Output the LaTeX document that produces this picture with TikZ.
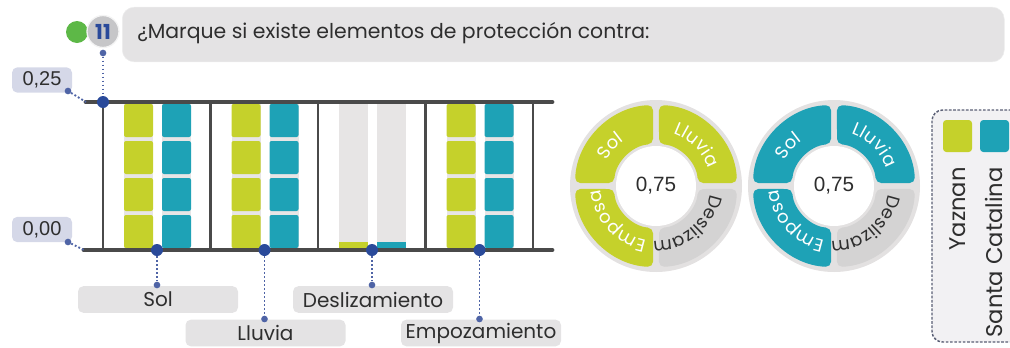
\documentclass[tikz,border=0pt]{standalone}
\usepackage{fontspec}
\setmainfont{Poppins}
\newfontfamily\numfont{Liberation Sans}
\usetikzlibrary{decorations.text}
\definecolor{ylw}{HTML}{C5D12B}
\definecolor{tel}{HTML}{1EA2B6}
\definecolor{barbg}{HTML}{E7E5E5}
\definecolor{axiscol}{HTML}{4A4A4A}
\definecolor{navy}{HTML}{2A4A9A}
\definecolor{sdot}{HTML}{4F64A6}
\definecolor{pill}{HTML}{E4E3E4}
\definecolor{numpill}{HTML}{D5D8E8}
\definecolor{txt}{HTML}{2E2E2E}
\definecolor{ringbg}{HTML}{E3E1E1}
\definecolor{segg}{HTML}{D4D3D3}
\definecolor{grn}{HTML}{5DB847}
\definecolor{ggray}{HTML}{C6C6C8}
\definecolor{legbg}{HTML}{F2F1F3}
\definecolor{legln}{HTML}{5A5F75}
\newcommand{\dfont}{\fontsize{13.5}{15}\selectfont}
\tikzset{
 bigdot/.style={circle, fill=navy, minimum size=9pt, inner sep=0pt},
 smalldot/.style={circle, fill=sdot, minimum size=5pt, inner sep=0pt},
 dotline/.style={sdot, line width=1.4pt, dash pattern=on 1.4pt off 1.6pt},
 catpill/.style={fill=pill, rounded corners=4pt, minimum width=120pt, minimum height=20pt, inner sep=0pt, text=txt, font=\fontsize{15}{17}\selectfont},
 numbox/.style={fill=numpill, rounded corners=4pt, minimum width=45pt, minimum height=19pt, inner sep=0pt, text=txt, font=\numfont\fontsize{15}{17}\selectfont},
 axisline/.style={axiscol, line width=3.6pt, line cap=round},
 vline/.style={axiscol, line width=1.9pt},
 legtext/.style={rotate=90, anchor=east, text=txt, font=\fontsize{17}{19}\selectfont, inner sep=0pt},
}
\newcommand{\donut}[2]{%
 \begin{scope}[shift={#1}, x=0.75pt, y=0.75pt]
  \fill[ringbg] (0,0) circle (86);
  \fill[white] (0,0) circle (40);
  \foreach \a/\c in {0/#2,90/#2,180/#2,270/segg}{
   \fill[\c, rounded corners=4pt] (\a+2.1:81) arc[start angle=\a+2.1, end angle=\a+87.9, radius=81] -- (\a+85.9:42) arc[start angle=\a+85.9, end angle=\a+4.1, radius=42] -- cycle;
  }
  \node[font=\numfont\fontsize{15.5}{17}\selectfont, text=txt] at (0,0) {0,75};
  \path[decorate, decoration={text along path, text align=center, text={|\dfont\color{white}|Sol}}] (178:55) arc[start angle=178, end angle=100, radius=55];
  \path[decorate, decoration={text along path, text align=center, text={|\dfont\color{white}|Lluvia}}] (92:55) arc[start angle=92, end angle=-2, radius=55];
  \path[decorate, decoration={text along path, text align=center, text={|\dfont\color{txt}|Deslizam}}] (2:55) arc[start angle=2, end angle=-104, radius=55];
  \path[decorate, decoration={text along path, text align=center, text={|\dfont\color{white}|Emposa}}] (272:55) arc[start angle=272, end angle=172, radius=55];
 \end{scope}}
\begin{document}
\begin{tikzpicture}[x=0.75pt,y=-0.75pt]
\useasboundingbox (0,0) rectangle (1010,347);
\clip (0,0) rectangle (1010,347);
% header
\node[fill=pill, draw=black!7, rounded corners=9pt, minimum width=661.5pt, minimum height=41pt, anchor=west, inner sep=0pt] (tbox) at (122,34.5) {};
\node[anchor=west, text=txt, font=\fontsize{15.3}{17}\selectfont, inner sep=0pt] (ttext) at (137,33.5) {¿Marque si existe elementos de protección contra:};
\node[circle, fill=grn, minimum size=16.5pt, inner sep=0pt] (g) at (77,32) {};
\node[circle, fill=ggray, draw=white!80!ggray, line width=1pt, minimum size=24pt, inner sep=0pt, text=navy, font=\bfseries\fontsize{15.5}{15.5}\selectfont] (q) at (103,31.5) {11};
% bars
\foreach \k in {0,1,3} {
  \pgfmathsetmacro\V{103+107.5*\k}
  \foreach \off/\c in {21/ylw,59/tel} {
    \fill[barbg] (\V+\off,104) rectangle (\V+\off+29,248);
    \foreach \i in {0,...,3} {
      \fill[\c, rounded corners=1.5pt] (\V+\off,104+37*\i) rectangle ++(29,33);
    }
  }
}
\fill[barbg] (339,104) rectangle (368,248);
\fill[barbg] (377,104) rectangle (406,248);
\fill[ylw] (339,242) rectangle (368,248);
\fill[tel] (377,242) rectangle (406,248);
% axes
\foreach \k in {0,...,4} \draw[vline] (103+107.5*\k,102) -- (103+107.5*\k,250);
\coordinate (tl) at (86,102); \coordinate (tr) at (552,102);
\coordinate (bl) at (84,250); \coordinate (br) at (552,250);
\draw[axisline] (tl) -- (tr);
\draw[axisline] (bl) -- (br);
% value labels
\node[numbox] (n25) at (42,80) {0,25};
\node[numbox] (n00) at (42,229.5) {0,00};
\node[smalldot] (m25) at (68,91) {};
\node[smalldot] (m00) at (68,242) {};
\draw[dotline] (m25) -- (tl);
\draw[dotline] (m00) -- (bl);
% header connector
\node[smalldot] (t0) at (103,53) {};
\node[bigdot] (d0) at (103,102) {};
\draw[dotline] (t0) -- (d0);
% category labels
\node[catpill] (Lsol) at (158,299.5) {Sol};
\node[catpill] (Llluvia) at (265.5,333) {Lluvia};
\node[catpill] (Ldes) at (373,299.5) {Deslizamiento};
\node[catpill] (Lemp) at (481,333) {Empozamiento};
\node[bigdot] (b1) at (157,250) {};
\node[bigdot] (b2) at (264.5,250) {};
\node[bigdot] (b3) at (372,250) {};
\node[bigdot] (b4) at (479.5,250) {};
\node[smalldot] (s1) at (157,285) {};
\node[smalldot] (s2) at (264.5,319) {};
\node[smalldot] (s3) at (372,285) {};
\node[smalldot] (s4) at (479.5,319) {};
\draw[dotline] (b1) -- (s1);
\draw[dotline] (b2) -- (s2);
\draw[dotline] (b3) -- (s3);
\draw[dotline] (b4) -- (s4);
% donuts
\donut{(656,186)}{ylw}
\donut{(834,186)}{tel}
% legend
\draw[legln, fill=legbg, line width=1.1pt, dash pattern=on 2pt off 1.2pt, rounded corners=8pt] (932,110) rectangle (1040,342);
\fill[ylw, rounded corners=2.5pt] (943,120) rectangle (972,152);
\fill[tel, rounded corners=2.5pt] (980,120) rectangle (1009,152);
\node[legtext] (yz) at (958,167) {Yaznan};
\node[legtext] (sc) at (994,167) {Santa Catalina};
\end{tikzpicture}
\end{document}
